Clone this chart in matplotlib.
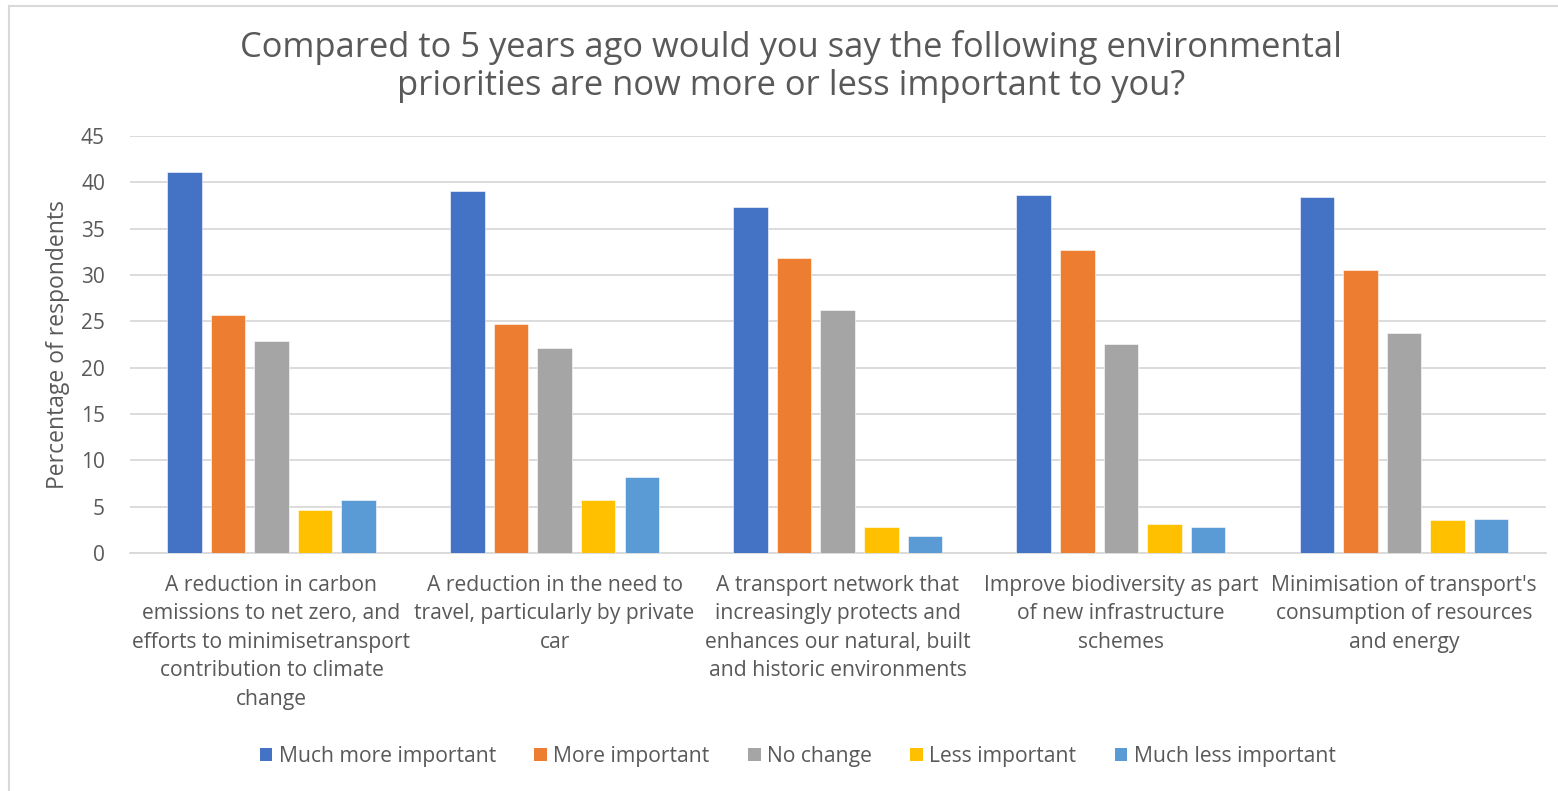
import matplotlib
matplotlib.use("Agg")
import matplotlib.pyplot as plt
import numpy as np
from matplotlib.lines import Line2D
from matplotlib.patches import Patch

categories = [
    "A reduction in carbon\nemissions to net zero, and\nefforts to minimisetransport\ncontribution to climate\nchange",
    "A reduction in the need to\ntravel, particularly by private\ncar",
    "A transport network that\nincreasingly protects and\nenhances our natural, built\nand historic environments",
    "Improve biodiversity as part\nof new infrastructure\nschemes",
    "Minimisation of transport's\nconsumption of resources\nand energy",
]
series_names = ["Much more important", "More important", "No change",
                "Less important", "Much less important"]
much_more = [41.1, 39.1, 37.3, 38.6, 38.4]
more = [25.7, 24.7, 31.8, 32.7, 30.5]
no_change = [22.9, 22.1, 26.2, 22.5, 23.7]
less = [4.6, 5.7, 2.8, 3.1, 3.6]
much_less = [5.7, 8.2, 1.8, 2.8, 3.7]
values = [much_more, more, no_change, less, much_less]
colors = ["#4472C4", "#ED7D31", "#A5A5A5", "#FFC000", "#5B9BD5"]
yticks = [0, 5, 10, 15, 20, 25, 30, 35, 40, 45]

title = ("Compared to 5 years ago would you say the following environmental\n"
         "priorities are now more or less important to you?")

plt.rcParams['font.family'] = ['Open Sans', 'DejaVu Sans']
text_color = "#595959"

fig = plt.figure(figsize=(15.58, 7.91), dpi=100)
ax = fig.add_axes([0.0834, 0.3009, 0.9086, 0.5272])

x = np.arange(len(categories))
step = 0.154
width = 0.122
for j, (vals, col, name) in enumerate(zip(values, colors, series_names)):
    ax.bar(x + (j - 2) * step, vals, width=width, color=col, label=name,
           edgecolor="white", linewidth=0.4, zorder=3)

ax.set_xlim(-0.5, len(categories) - 0.5)
ax.set_ylim(0, 45)
ax.set_yticks(yticks)
ax.yaxis.grid(True, color="#d9d9d9", linewidth=1.3, zorder=0)
ax.set_axisbelow(True)
for s in ["top", "right", "left"]:
    ax.spines[s].set_visible(False)
ax.spines["bottom"].set_color("#d9d9d9")
ax.spines["bottom"].set_linewidth(1.3)
ax.tick_params(axis="both", length=0, colors=text_color, labelsize=15)
ax.tick_params(axis="y", pad=18)
ax.tick_params(axis="x", pad=15.5)
ax.set_xticks(x)
ax.set_xticklabels(categories, fontsize=15.2, color=text_color, linespacing=1.47)
ax.set_ylabel("Percentage of respondents", fontsize=16.5, color=text_color, labelpad=8)

fig.text(0.508, 0.916, title, ha="center", va="center", fontsize=24.8,
         color=text_color, linespacing=1.16)

handles = [Patch(facecolor=c, edgecolor="none") for c in colors]
fig.legend(handles, series_names, loc="center", bbox_to_anchor=(0.512, 0.044),
           ncol=5, frameon=False, fontsize=15.2, labelcolor=text_color,
           handlelength=0.6, handleheight=0.6, handletextpad=0.3,
           columnspacing=1.82)

# thin frame along the top and left edge of the chart area
fig.add_artist(Line2D([0.006, 1.0], [0.993, 0.993], color="#d9d9d9", linewidth=1.5,
                      transform=fig.transFigure))
fig.add_artist(Line2D([0.006, 0.006], [0.0, 0.993], color="#d9d9d9", linewidth=1.5,
                      transform=fig.transFigure))

fig.savefig("out.png", dpi=100, facecolor="white")
